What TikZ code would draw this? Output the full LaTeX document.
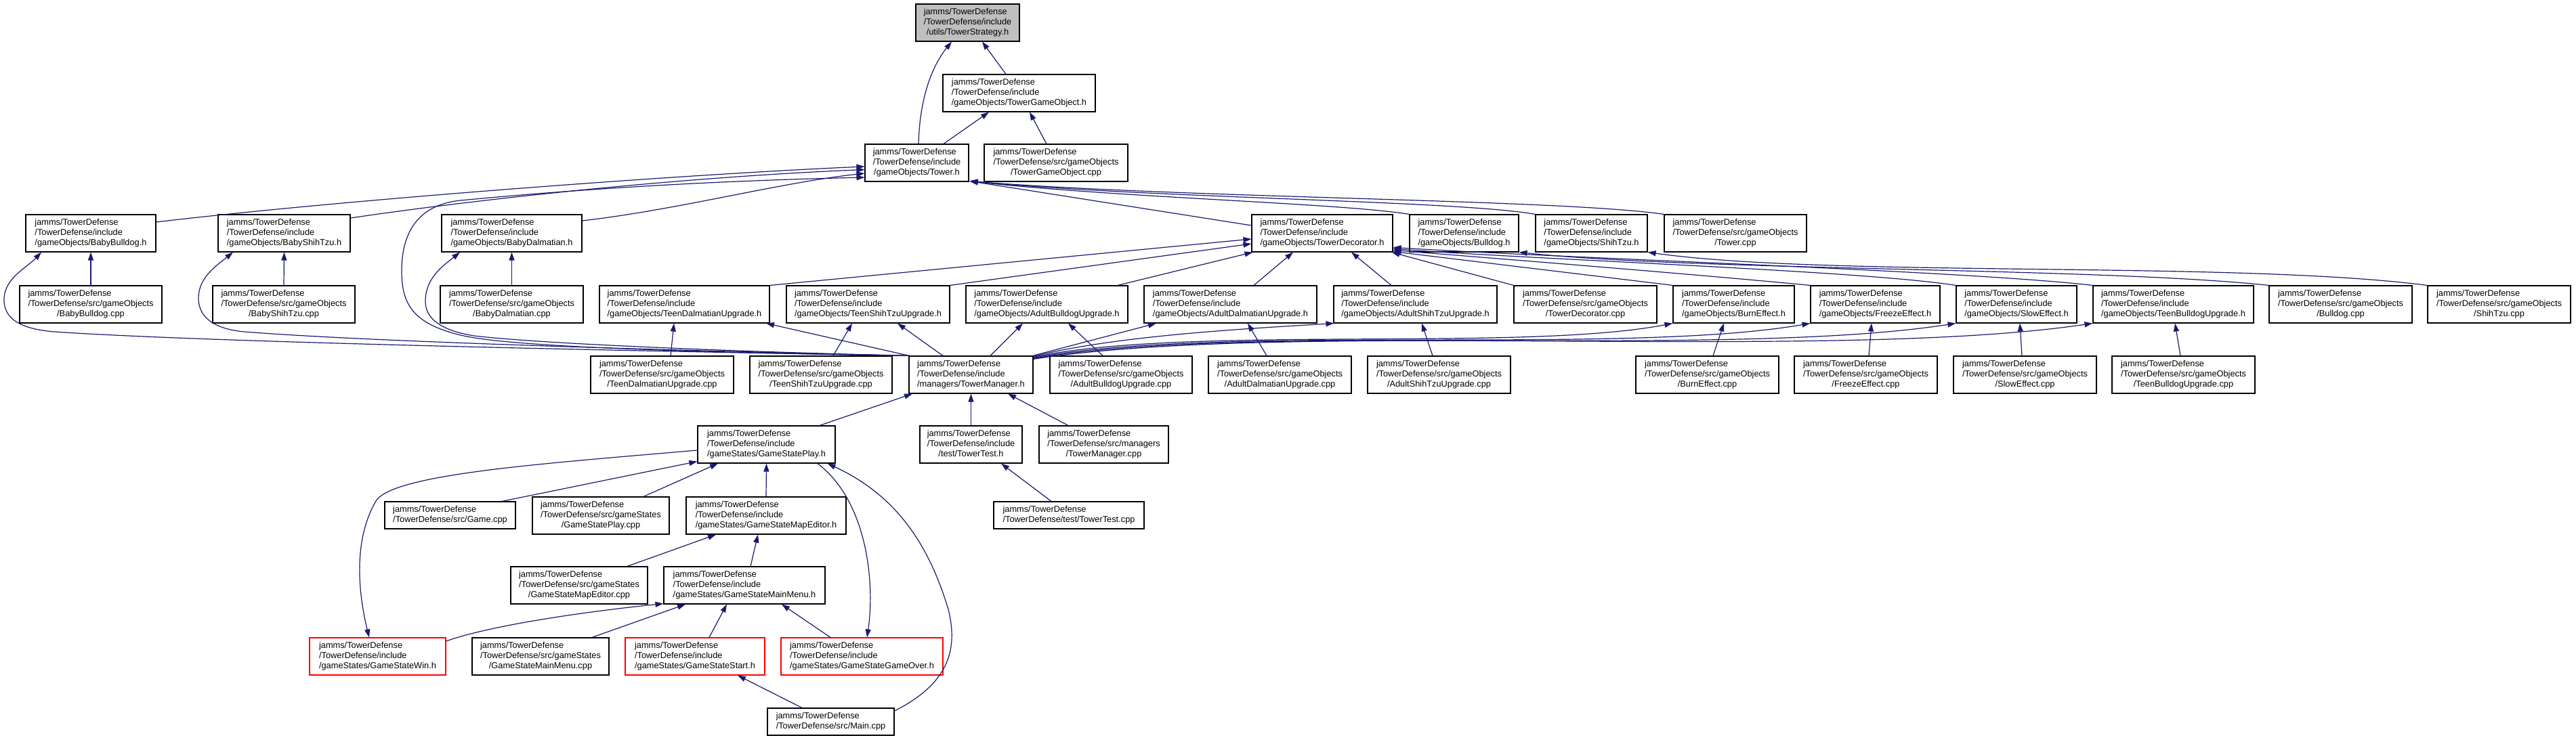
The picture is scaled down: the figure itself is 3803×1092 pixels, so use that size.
\documentclass[tikz,border=0pt]{standalone}
\usepackage{fontspec}
\setmainfont{Liberation Sans}
\usetikzlibrary{arrows.meta,calc}
\definecolor{edgeblue}{HTML}{191970}
\definecolor{rootgray}{HTML}{BFBFBF}
\definecolor{trunc}{HTML}{FF0000}
\newcommand\lthree[3]{\begin{tabular}{@{}l@{}}#1\\#2\\\multicolumn{1}{@{}c@{}}{#3}\end{tabular}}
\newcommand\ltwo[2]{\begin{tabular}{@{}l@{}}#1\\\multicolumn{1}{@{}c@{}}{#2}\end{tabular}}
\newcommand\inc[1]{\lthree{jamms/TowerDefense}{/TowerDefense/include}{#1}}
\newcommand\srcf[2]{\lthree{jamms/TowerDefense}{/TowerDefense/src/#1}{#2}}
\newcommand\nd[7]{\node[#6, minimum width=#4bp-#2bp, minimum height=#5bp-#3bp] (#1) at ({(#2+#4)/2},{(#3+#5)/2}) {#7};}
\tikzset{
 box/.style={draw=black, line width=1.1bp, fill=white, inner sep=0pt, font=\fontsize{12.8bp}{14.8bp}\selectfont},
 rootbox/.style={box, fill=rootgray},
 redbox/.style={box, draw=trunc},
 edge/.style={draw=edgeblue, line width=1.2bp, -{Triangle[length=12bp,width=8bp]}},
}
\begin{document}
\begin{tikzpicture}[x=1bp,y=-1bp]
\fill[white] (0,0) rectangle (3803,1092);
\useasboundingbox (0,0) rectangle (3803,1092);
% nodes
\nd{TS}{1352}{6}{1505}{61}{rootbox}{\lthree{jamms/TowerDefense}{/TowerDefense/include}{/utils/TowerStrategy.h}}
\nd{TGO}{1392}{110}{1617}{165}{box}{\inc{/gameObjects/TowerGameObject.h}}
\nd{T}{1277}{213}{1430}{268}{box}{\inc{/gameObjects/Tower.h}}
\nd{TGOcpp}{1453}{213}{1665}{268}{box}{\srcf{gameObjects}{/TowerGameObject.cpp}}
\nd{BB}{38}{317}{230}{372}{box}{\inc{/gameObjects/BabyBulldog.h}}
\nd{BS}{322}{317}{517}{372}{box}{\inc{/gameObjects/BabyShihTzu.h}}
\nd{BD}{652}{317}{859}{372}{box}{\inc{/gameObjects/BabyDalmatian.h}}
\nd{TD}{1848}{317}{2056}{372}{box}{\inc{/gameObjects/TowerDecorator.h}}
\nd{BUL}{2081}{317}{2242}{372}{box}{\inc{/gameObjects/Bulldog.h}}
\nd{SH}{2267}{317}{2432}{372}{box}{\inc{/gameObjects/ShihTzu.h}}
\nd{Tcpp}{2457}{317}{2667}{372}{box}{\srcf{gameObjects}{/Tower.cpp}}
\nd{BBcpp}{29}{422}{239}{477}{box}{\srcf{gameObjects}{/BabyBulldog.cpp}}
\nd{BScpp}{314}{422}{524}{477}{box}{\srcf{gameObjects}{/BabyShihTzu.cpp}}
\nd{BDcpp}{650}{422}{861}{477}{box}{\srcf{gameObjects}{/BabyDalmatian.cpp}}
\nd{TDU}{885}{422}{1136}{477}{box}{\inc{/gameObjects/TeenDalmatianUpgrade.h}}
\nd{TSU}{1161}{422}{1402}{477}{box}{\inc{/gameObjects/TeenShihTzuUpgrade.h}}
\nd{ABU}{1426}{422}{1665}{477}{box}{\inc{/gameObjects/AdultBulldogUpgrade.h}}
\nd{ADU}{1689}{422}{1944}{477}{box}{\inc{/gameObjects/AdultDalmatianUpgrade.h}}
\nd{ASU}{1969}{422}{2210}{477}{box}{\inc{/gameObjects/AdultShihTzuUpgrade.h}}
\nd{TDcpp}{2235}{422}{2446}{477}{box}{\srcf{gameObjects}{/TowerDecorator.cpp}}
\nd{BE}{2470}{422}{2649}{477}{box}{\inc{/gameObjects/BurnEffect.h}}
\nd{FE}{2673}{422}{2864}{477}{box}{\inc{/gameObjects/FreezeEffect.h}}
\nd{SE}{2888}{422}{3066}{477}{box}{\inc{/gameObjects/SlowEffect.h}}
\nd{TBU}{3090}{422}{3327}{477}{box}{\inc{/gameObjects/TeenBulldogUpgrade.h}}
\nd{BULcpp}{3350}{422}{3561}{477}{box}{\srcf{gameObjects}{/Bulldog.cpp}}
\nd{SHcpp}{3584}{422}{3795}{477}{box}{\srcf{gameObjects}{/ShihTzu.cpp}}
\nd{TDUcpp}{872}{526}{1083}{581}{box}{\srcf{gameObjects}{/TeenDalmatianUpgrade.cpp}}
\nd{TSUcpp}{1107}{526}{1317}{581}{box}{\srcf{gameObjects}{/TeenShihTzuUpgrade.cpp}}
\nd{TM}{1342}{526}{1525}{581}{box}{\inc{/managers/TowerManager.h}}
\nd{ABUcpp}{1550}{526}{1760}{581}{box}{\srcf{gameObjects}{/AdultBulldogUpgrade.cpp}}
\nd{ADUcpp}{1784}{526}{1995}{581}{box}{\srcf{gameObjects}{/AdultDalmatianUpgrade.cpp}}
\nd{ASUcpp}{2019}{526}{2230}{581}{box}{\srcf{gameObjects}{/AdultShihTzuUpgrade.cpp}}
\nd{BEcpp}{2415}{526}{2626}{581}{box}{\srcf{gameObjects}{/BurnEffect.cpp}}
\nd{FEcpp}{2649}{526}{2860}{581}{box}{\srcf{gameObjects}{/FreezeEffect.cpp}}
\nd{SEcpp}{2884}{526}{3095}{581}{box}{\srcf{gameObjects}{/SlowEffect.cpp}}
\nd{TBUcpp}{3118}{526}{3329}{581}{box}{\srcf{gameObjects}{/TeenBulldogUpgrade.cpp}}
\nd{GSP}{1030}{629}{1233}{684}{box}{\inc{/gameStates/GameStatePlay.h}}
\nd{TT}{1358}{629}{1509}{684}{box}{\inc{/test/TowerTest.h}}
\nd{TMcpp}{1534}{629}{1725}{684}{box}{\srcf{managers}{/TowerManager.cpp}}
\nd{Gcpp}{568}{741}{761}{781}{box}{\ltwo{jamms/TowerDefense}{/TowerDefense/src/Game.cpp}}
\nd{GSPcpp}{786}{734}{988}{789}{box}{\srcf{gameStates}{/GameStatePlay.cpp}}
\nd{GSME}{1013}{734}{1249}{789}{box}{\inc{/gameStates/GameStateMapEditor.h}}
\nd{TTcpp}{1467}{741}{1689}{781}{box}{\ltwo{jamms/TowerDefense}{/TowerDefense/test/TowerTest.cpp}}
\nd{GSMEcpp}{754}{837}{956}{892}{box}{\srcf{gameStates}{/GameStateMapEditor.cpp}}
\nd{GSMM}{980}{837}{1218}{892}{box}{\inc{/gameStates/GameStateMainMenu.h}}
\nd{GSW}{457}{942}{658}{997}{redbox}{\inc{/gameStates/GameStateWin.h}}
\nd{GSMMcpp}{697}{942}{899}{997}{box}{\srcf{gameStates}{/GameStateMainMenu.cpp}}
\nd{GSS}{923}{942}{1129}{997}{redbox}{\inc{/gameStates/GameStateStart.h}}
\nd{GSGO}{1153}{942}{1392}{997}{redbox}{\inc{/gameStates/GameStateGameOver.h}}
\nd{Main}{1133}{1046}{1320}{1086}{box}{\ltwo{jamms/TowerDefense}{/TowerDefense/src/Main.cpp}}
% top edges
\draw[edge] ($(T.north)+(2.5,0)$) .. controls (1358,140) and (1378,95) .. ($(TS.south)+(-23.5,0)$);
\draw[edge] ($(TGO.north)+(-19.5,0)$) -- ($(TS.south)+(21.5,0)$);
\draw[edge] ($(T.north)+(39.5,0)$) -- ($(TGO.south)+(-44.5,0)$);
\draw[edge] ($(TGOcpp.north)+(-14,0)$) -- ($(TGO.south)+(15.5,0)$);
% into Tower.h from the left
\draw[edge] ($(BB.east)+(0,-16.5)$) .. controls (500,296) and (1000,258) .. ($(T.west)+(0,5.5)$);
\draw[edge] ($(BS.east)+(0,-22.5)$) .. controls (700,295) and (1000,262) .. ($(T.west)+(0,10)$);
\draw[edge] ($(BD.east)+(0,-18.5)$) .. controls (1000,310) and (1150,270) .. ($(T.west)+(0,15.5)$);
\draw[edge] ($(TM.north west)+(6,0)$) .. controls (1000,520) and (750,512) .. (680,495) .. controls (610,478) and (593,450) .. (593,400) .. controls (593,340) and (620,302) .. (680,296) .. controls (900,275) and (1100,266) .. ($(T.west)+(0,21.5)$);
% into Tower.h from the right (all meet at its lower right corner)
\draw[edge] ($(TD.west)+(0,-11.5)$) -- ($(T.south east)+(1,-1)$);
\draw[edge] (BUL.north west) .. controls (1980,300) and (1650,292) .. ($(T.south east)+(1,-1)$);
\draw[edge] (SH.north west) .. controls (2150,296) and (1700,293) .. ($(T.south east)+(1,-1)$);
\draw[edge] (Tcpp.north west) .. controls (2300,294) and (1750,293) .. ($(T.south east)+(1,-1)$);
% TowerManager to baby headers
\draw[edge] ($(TM.north west)+(2,0)$) .. controls (900,518) and (300,505) .. (80,490) .. controls (20,485) and (5,465) .. (6,440) .. controls (8,410) and (40,395) .. ($(BB.south)+(-73,0)$);
\draw[edge] ($(TM.north west)+(3,0)$) .. controls (1000,518) and (550,505) .. (360,490) .. controls (310,485) and (293,465) .. (293,440) .. controls (293,410) and (320,392) .. ($(BS.south)+(-75.5,0)$);
\draw[edge] ($(TM.north west)+(4,0)$) .. controls (1100,520) and (800,508) .. (700,496) .. controls (650,488) and (628,470) .. (628,445) .. controls (628,410) and (655,392) .. ($(BD.south)+(-76.5,0)$);
\draw[edge] (BBcpp.north) -- (BB.south);
\draw[edge] (BScpp.north) -- (BS.south);
\draw[edge] (BDcpp.north) -- (BD.south);
% row 4 to row 3
\draw[edge] ($(TDUcpp.north)+(12.5,0)$) -- ($(TDU.south)+(-15.5,0)$);
\draw[edge] ($(TM.north west)+(1,0)$) -- ($(TDU.south)+(120.5,0)$);
\draw[edge] ($(TSUcpp.north)+(18,0)$) -- ($(TSU.south)+(-23.5,0)$);
\draw[edge] ($(TM.north)+(-41.5,0)$) -- ($(TSU.south)+(43.5,0)$);
\draw[edge] ($(TM.north)+(28.5,0)$) -- ($(ABU.south)+(-35.5,0)$);
\draw[edge] ($(ABUcpp.north)+(-27,0)$) -- ($(ABU.south)+(31.5,0)$);
\draw[edge] ($(TM.north east)+(-1,0)$) -- ($(ADU.south)+(-109.5,0)$);
\draw[edge] ($(ADUcpp.north)+(-19.5,0)$) -- ($(ADU.south)+(25.5,0)$);
\draw[edge] ($(TM.north east)+(0,1)$) .. controls (1650,495) and (1850,485) .. ($(ASU.south west)+(1,0)$);
\draw[edge] ($(ASUcpp.north)+(-9.5,0)$) -- ($(ASU.south)+(9.5,0)$);
\draw[edge] ($(TM.north east)+(0,2)$) .. controls (1750,480) and (2250,520) .. (BE.south west);
\draw[edge] ($(TM.north east)+(0,3)$) .. controls (1800,478) and (2400,525) .. (FE.south west);
\draw[edge] ($(TM.north east)+(0,4)$) .. controls (1850,475) and (2550,530) .. (SE.south west);
\draw[edge] ($(TM.north east)+(0,5)$) .. controls (1900,472) and (2700,535) .. (TBU.south west);
\draw[edge] ($(BEcpp.north)+(8.5,0)$) -- ($(BE.south)+(-14.5,0)$);
\draw[edge] ($(FEcpp.north)+(4.5,0)$) -- ($(FE.south)+(-5.5,0)$);
\draw[edge] ($(SEcpp.north)+(-4.5,0)$) -- ($(SE.south)+(5,0)$);
\draw[edge] ($(TBUcpp.north)+(-4.5,0)$) -- ($(TBU.south)+(2.5,0)$);
% into TowerDecorator.h
\draw[edge] (TDU.north east) -- ($(TD.west)+(0,8.5)$);
\draw[edge] (TSU.north east) -- ($(TD.west)+(0,15.5)$);
\draw[edge] ($(ABU.north)+(104.5,0)$) -- ($(TD.south west)+(2,0)$);
\draw[edge] ($(ADU.north)+(34.5,0)$) -- ($(TD.south)+(-43,0)$);
\draw[edge] ($(ASU.north)+(-35.5,0)$) -- ($(TD.south)+(43,0)$);
\draw[edge] (TDcpp.north west) -- ($(TD.south east)+(-2,0)$);
\draw[edge] (BE.north west) -- ($(TD.south east)+(0,-1)$);
\draw[edge] (FE.north west) .. controls (2500,405) and (2250,385) .. ($(TD.south east)+(0,-3)$);
\draw[edge] (SE.north west) .. controls (2750,400) and (2300,385) .. ($(TD.south east)+(0,-5)$);
\draw[edge] (TBU.north west) .. controls (2900,400) and (2350,383) .. ($(TD.south east)+(0,-7)$);
% Bulldog / ShihTzu sources
\draw[edge] (BULcpp.north west) .. controls (3100,395) and (2500,400) .. (BUL.south east);
\draw[edge] (SHcpp.north west) .. controls (3300,385) and (2700,410) .. (SH.south east);
% TowerManager includers
\draw[edge] ($(GSP.north)+(78.5,0)$) -- ($(TM.south)+(-86.5,0)$);
\draw[edge] (TT.north) -- (TM.south);
\draw[edge] ($(TMcpp.north)+(-52.5,0)$) -- ($(TM.south)+(54.5,0)$);
\draw[edge] ($(TTcpp.north)+(-26,0)$) -- ($(TT.south)+(44.5,0)$);
% GameStatePlay
\draw[edge] ($(Gcpp.north)+(76.5,0)$) -- ($(GSP.south west)+(0,-3)$);
\draw[edge] ($(GSPcpp.north)+(63,0)$) -- ($(GSP.south)+(-71.5,0)$);
\draw[edge] (GSME.north) -- (GSP.south);
\draw[edge] ($(GSP.west)+(0,8.5)$) .. controls (800,685) and (580,700) .. (555,740) .. controls (520,800) and (530,880) .. ($(GSW.north)+(-12.5,0)$);
\draw[edge] ($(GSP.south)+(75.5,0)$) .. controls (1280,740) and (1292,860) .. ($(GSGO.north)+(7.5,0)$);
\draw[edge] ($(Main.east)+(0,-16)$) .. controls (1400,1010) and (1415,960) .. (1400,900) .. controls (1370,800) and (1320,730) .. ($(GSP.south)+(90,0)$);
% GameStateMapEditor
\draw[edge] ($(GSMEcpp.north)+(71,0)$) -- ($(GSME.south)+(-74,0)$);
\draw[edge] ($(GSMM.north)+(9,0)$) -- ($(GSME.south)+(-12,0)$);
% GameStateMainMenu
\draw[edge] ($(GSW.east)+(0,-22.5)$) .. controls (720,925) and (850,905) .. ($(GSMM.south west)+(0,-1)$);
\draw[edge] ($(GSMMcpp.north)+(76,0)$) -- ($(GSMM.south)+(-87,0)$);
\draw[edge] ($(GSS.north)+(21,0)$) -- ($(GSMM.south)+(-26,0)$);
\draw[edge] ($(GSGO.north)+(-46.5,0)$) -- ($(GSMM.south)+(55,0)$);
\draw[edge] ($(Main.north)+(-42.5,0)$) -- ($(GSS.south)+(63,0)$);
\end{tikzpicture}
\end{document}
